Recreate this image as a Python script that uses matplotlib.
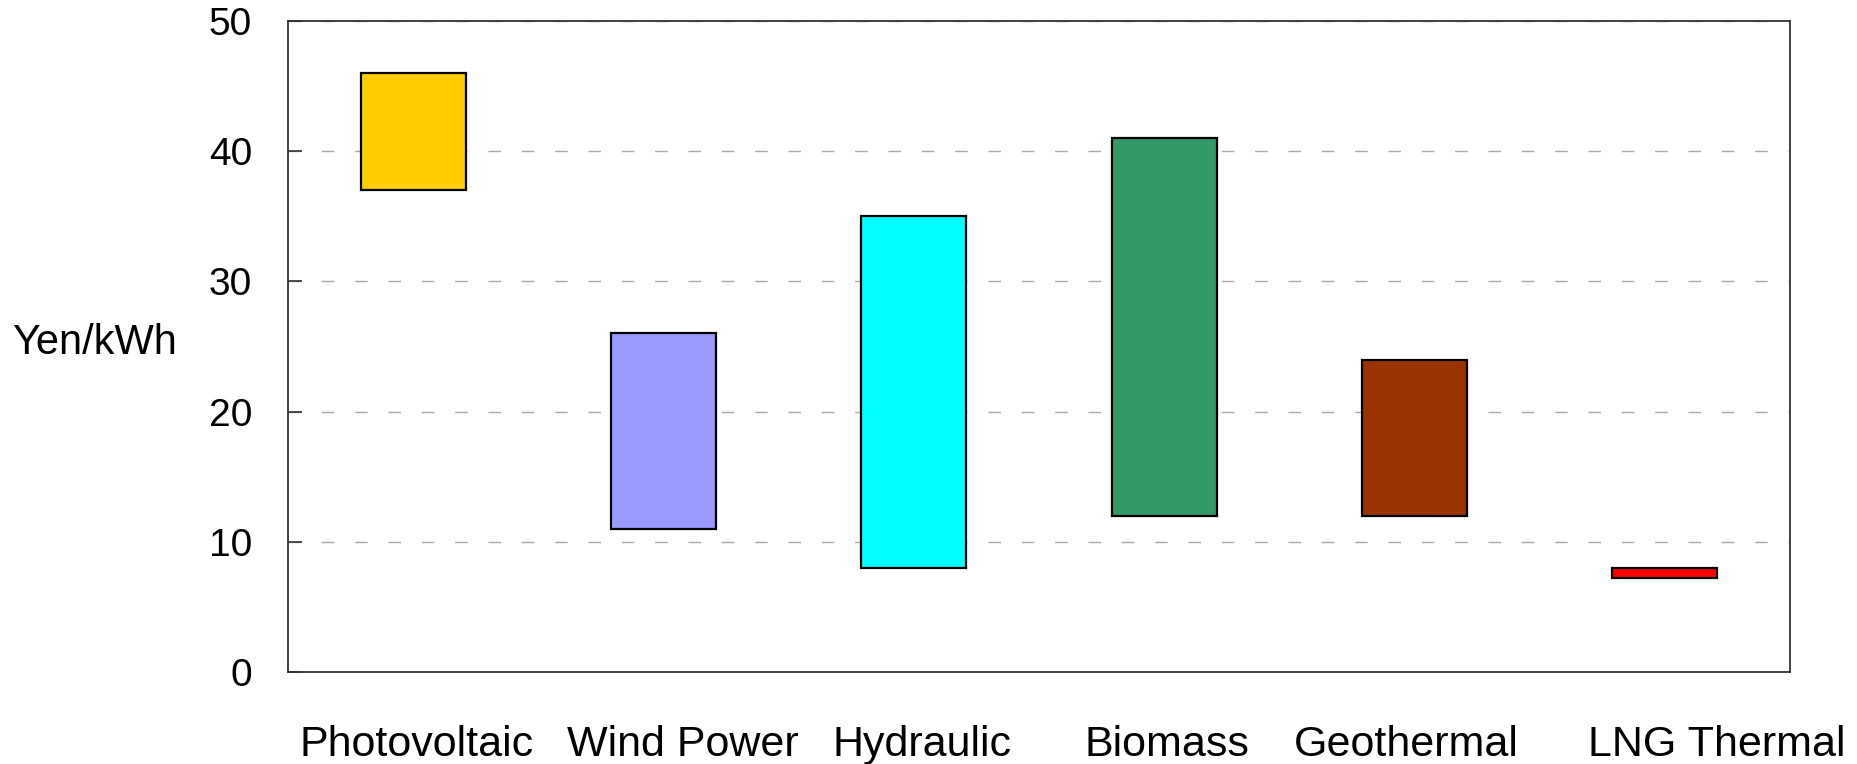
import matplotlib
matplotlib.use('Agg')
import matplotlib.pyplot as plt
import numpy as np

# Cost ranges (Yen/kWh) per power source
categories = ['Photovoltaic', 'Wind Power', 'Hydraulic', 'Biomass', 'Geothermal', 'LNG Thermal']
cost_low = [37, 11, 8, 12, 12, 7.2]
cost_high = [46, 26, 35, 41, 24, 8]
bar_colors = ['#FFCC00', '#9999FF', '#00FFFF', '#339966', '#993300', '#FF0000']
y_ticks = [0, 10, 20, 30, 40, 50]
# labels in the original sit a little off the bar centres
label_shift = [0.014, 0.076, 0.032, 0.012, -0.032, 0.206]

plt.rcParams['font.family'] = ['Liberation Sans', 'DejaVu Sans']

fig = plt.figure(figsize=(18.58, 7.64), dpi=100)
ax = fig.add_axes([0.155, 0.1204, 0.8084, 0.8521])

x = np.arange(len(categories))
heights = np.array(cost_high) - np.array(cost_low)
ax.bar(x, heights, bottom=cost_low, width=0.42, color=bar_colors,
       edgecolor='black', linewidth=1.6, zorder=3)

# Dashed horizontal grid
ax.set_axisbelow(True)
ax.yaxis.grid(True, color='#aaaaaa', linestyle=(0, (9, 15)), linewidth=1.0)

ax.set_xlim(-0.5, 5.5)
ax.set_ylim(0, 50)
ax.set_yticks(y_ticks)
ax.set_yticklabels([str(v) for v in y_ticks], fontsize=28)
ax.tick_params(axis='y', direction='in', length=10, width=1.2, pad=26, color='#333333')

ax.set_xticks(x + np.array(label_shift))
ax.set_xticklabels(categories, fontsize=31)
ax.tick_params(axis='x', length=0, pad=38)

for spine in ax.spines.values():
    spine.set_color('#333333')
    spine.set_linewidth(1.3)

ax.set_ylabel('Yen/kWh', fontsize=30, rotation=0, ha='center', va='center')
ax.yaxis.set_label_coords(-0.1286, 0.505)

plt.savefig('out.png', dpi=100)
